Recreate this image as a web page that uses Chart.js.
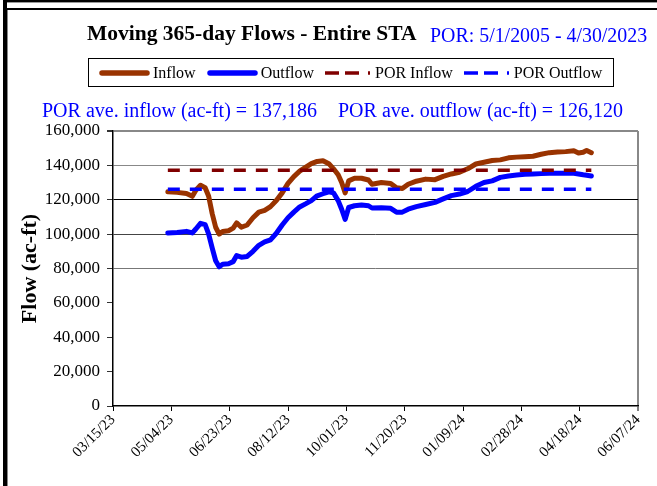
<!DOCTYPE html>
<html>
<head>
<meta charset="utf-8">
<script src="https://cdn.jsdelivr.net/npm/chart.js@4.4.0/dist/chart.umd.min.js"></script>
<style>
body{margin:0;width:657px;height:486px;overflow:hidden;background:#fff;position:relative;font-family:"Liberation Serif","Times New Roman",serif}
.f{position:absolute}
#grafico{position:absolute;left:0;top:0}
.txt{position:absolute;line-height:1;white-space:nowrap}
#titulo{left:87px;top:23px;font-size:21.5px;font-weight:bold;color:#000}
#por{left:430px;top:26px;font-size:19.9px;color:#0000ff}
#mediaIn{left:42px;top:100px;font-size:20px;color:#0000ff}
#mediaOut{left:338px;top:100px;font-size:20px;color:#0000ff}
#legenda{position:absolute;left:88px;top:58px;width:526px;height:29px;box-sizing:border-box;border:1px solid #000;background:#fff;display:flex;align-items:center;padding-left:10px;font-size:16px;white-space:nowrap}
.item{display:flex;align-items:center;margin-right:11px;flex-shrink:0}
.item span{margin-left:3px;line-height:1}
</style>
</head>
<body>
<div class="f" style="left:3px;top:0;width:4px;height:486px;background:#000"></div>
<div class="f" style="left:7px;top:9px;width:1px;height:477px;background:#888"></div>
<div class="f" style="left:7px;top:0;width:650px;height:2px;background:#000"></div>
<div class="f" style="left:7px;top:2px;width:650px;height:1px;background:#999"></div>
<div class="f" style="left:7px;top:8px;width:650px;height:2px;background:#000"></div>

<canvas id="grafico" width="657" height="486"></canvas>

<div class="txt" id="titulo">Moving 365-day Flows - Entire STA</div>
<div class="txt" id="por">POR: 5/1/2005 - 4/30/2023</div>
<div id="legenda"></div>
<div class="txt" id="mediaIn"></div>
<div class="txt" id="mediaOut"></div>

<script>
const inicio = "2023-03-15"

const datas = [
    "2023-05-01","2023-05-09","2023-05-17","2023-05-22","2023-05-25","2023-05-29","2023-06-02","2023-06-05",
    "2023-06-08","2023-06-11","2023-06-14","2023-06-17","2023-06-22","2023-06-26","2023-06-29","2023-07-03",
    "2023-07-08","2023-07-13","2023-07-18","2023-07-23","2023-07-28","2023-08-02","2023-08-07","2023-08-12",
    "2023-08-17","2023-08-22","2023-08-27","2023-09-01","2023-09-06","2023-09-11","2023-09-16","2023-09-20",
    "2023-09-24","2023-09-27","2023-09-30","2023-10-03","2023-10-08","2023-10-14","2023-10-20","2023-10-23",
    "2023-10-31","2023-11-08","2023-11-13","2023-11-18","2023-11-23","2023-11-30","2023-12-08","2023-12-16",
    "2023-12-23","2023-12-30","2024-01-06","2024-01-13","2024-01-20","2024-01-27","2024-02-03","2024-02-10",
    "2024-02-17","2024-02-24","2024-03-02","2024-03-09","2024-03-16","2024-03-23","2024-03-30","2024-04-06",
    "2024-04-13","2024-04-17","2024-04-21","2024-04-24","2024-04-28"
]

const inflow = [
    124700,124300,123600,122000,125500,128400,127000,122000,
    112000,104000,100000,101500,102000,103500,106500,104000,
    105300,109500,112800,113800,116000,119500,124000,129500,
    133500,136600,138800,141000,142300,142700,141000,138000,
    134500,130000,124000,131000,132500,132500,131500,129000,
    130000,129500,127000,126500,129000,130800,132000,131700,
    133600,135000,136000,138000,140800,141800,142800,143200,
    144400,144800,145000,145300,146500,147400,147800,148000,
    148500,147200,147600,148700,147400
]

const outflow = [
    100600,101000,101600,100700,103000,106300,105500,100000,
    92000,84500,81000,82500,82800,84000,87500,86600,
    87000,90000,93500,95500,96700,100500,105300,109500,
    112800,115800,117600,119500,122300,123500,124600,124000,
    119500,114500,108600,115500,116500,117000,116500,115200,
    115300,115000,112800,112800,114500,116000,117200,118500,
    120500,122400,123300,124800,127800,130000,131000,133000,
    133800,134400,134800,135000,135200,135400,135400,135400,
    135400,135000,134500,134200,133800
]

const porInflow = 137186
const porOutflow = 126120

const xTicks = ["03/15/23","05/04/23","06/23/23","08/12/23","10/01/23","11/20/23","01/09/24","02/28/24","04/18/24","06/07/24"]
const yTicks = [0,20000,40000,60000,80000,100000,120000,140000,160000]

const nomes = ["Inflow","Outflow","POR Inflow","POR Outflow"]
const cores = ["#993300","#0000ff","#800000","#0000ff"]

const fonte = "'Liberation Serif','Times New Roman',serif"

function dia(iso){
    return (Date.parse(iso) - Date.parse(inicio)) / 86400000
}

function diaTick(rotulo){
    const [m, d, a] = rotulo.split("/")
    return dia(`20${a}-${m}-${d}`)
}

function fmt(v){
    return v.toLocaleString("en-US")
}

function serie(valores){
    return datas.map((d, i) => ({ x: dia(d), y: valores[i] }))
}

function linhaPor(valor){
    return [{ x: dia(datas[0]), y: valor }, { x: dia(datas[datas.length - 1]), y: valor }]
}

const corGrade = { 160000: "#888", 140000: "#888", 120000: "#000", 100000: "#444", 80000: "#777" }
const ultimoX = diaTick(xTicks[xTicks.length - 1])

const grafico = new Chart(document.getElementById("grafico"), {
    type: "line",
    data: {
        datasets: [
            { label: nomes[0], data: serie(inflow), borderColor: cores[0], borderWidth: 5, borderCapStyle: "round", order: 4 },
            { label: nomes[1], data: serie(outflow), borderColor: cores[1], borderWidth: 5, borderCapStyle: "round", order: 3 },
            { label: nomes[2], data: linhaPor(porInflow), borderColor: cores[2], borderWidth: 3.5, borderDash: [12, 10], borderCapStyle: "butt", order: 2 },
            { label: nomes[3], data: linhaPor(porOutflow), borderColor: cores[3], borderWidth: 3.5, borderDash: [12, 10], borderCapStyle: "butt", order: 1 }
        ]
    },
    options: {
        responsive: false,
        animation: false,
        elements: {
            point: { radius: 0 },
            line: { tension: 0, fill: false, borderJoinStyle: "round" }
        },
        layout: { padding: { top: 131, right: 19, left: 0, bottom: 0 } },
        plugins: { legend: { display: false }, tooltip: { enabled: false } },
        scales: {
            x: {
                type: "linear",
                min: diaTick(xTicks[0]),
                max: ultimoX,
                afterBuildTicks: s => { s.ticks = xTicks.map(t => ({ value: diaTick(t) })) },
                afterFit: s => { s.height = 80; s.paddingLeft = 0; s.paddingRight = 0 },
                ticks: {
                    autoSkip: false,
                    minRotation: 45,
                    maxRotation: 45,
                    padding: 0,
                    color: "#000",
                    font: { family: fonte, size: 15 },
                    callback: (v, i) => xTicks[i]
                },
                grid: {
                    color: c => c.tick && c.tick.value === ultimoX ? "#888" : "rgba(0,0,0,0)",
                    lineWidth: c => c.tick && c.tick.value === ultimoX ? 2 : 1,
                    tickColor: "#000",
                    tickWidth: 1,
                    tickLength: 5
                },
                border: { color: "#000", width: 1.5 }
            },
            y: {
                min: yTicks[0],
                max: yTicks[yTicks.length - 1],
                afterBuildTicks: s => { s.ticks = yTicks.map(v => ({ value: v })) },
                afterFit: s => { s.width = 113; s.paddingTop = 0; s.paddingBottom = 0 },
                ticks: {
                    padding: 7,
                    color: "#000",
                    font: { family: fonte, size: 17 },
                    callback: v => fmt(v)
                },
                grid: {
                    color: c => c.tick ? (corGrade[c.tick.value] || "rgba(0,0,0,0)") : "rgba(0,0,0,0)",
                    lineWidth: c => c.tick && c.tick.value === yTicks[yTicks.length - 1] ? 2 : 1,
                    tickColor: "#333",
                    tickLength: 6
                },
                border: { color: "#000", width: 1.5 },
                title: {
                    display: true,
                    text: "Flow (ac-ft)",
                    color: "#000",
                    font: { family: fonte, size: 22, weight: "bold" },
                    padding: { top: 17, bottom: 0 }
                }
            }
        }
    }
})

function montarLegenda(){
    const legenda = document.getElementById("legenda")
    legenda.innerHTML = grafico.data.datasets.map(ds => {
        const tracejado = ds.borderDash ? "stroke-dasharray='14 6 14 9 2 20'" : "stroke-linecap='round'"
        const larg = ds.borderDash ? 3.5 : 5.5
        const w = ds.borderDash ? 47 : 51
        const x1 = ds.borderDash ? 0 : 3
        const x2 = ds.borderDash ? w : w - 3
        return `<div class='item'><svg width='${w}' height='10'><line x1='${x1}' y1='5' x2='${x2}' y2='5' stroke='${ds.borderColor}' stroke-width='${larg}' ${tracejado}/></svg><span>${ds.label}</span></div>`
    }).join("")
}

montarLegenda()
document.getElementById("mediaIn").innerText = `POR ave. inflow (ac-ft) = ${fmt(porInflow)}`
document.getElementById("mediaOut").innerText = `POR ave. outflow (ac-ft) = ${fmt(porOutflow)}`
</script>
</body>
</html>
